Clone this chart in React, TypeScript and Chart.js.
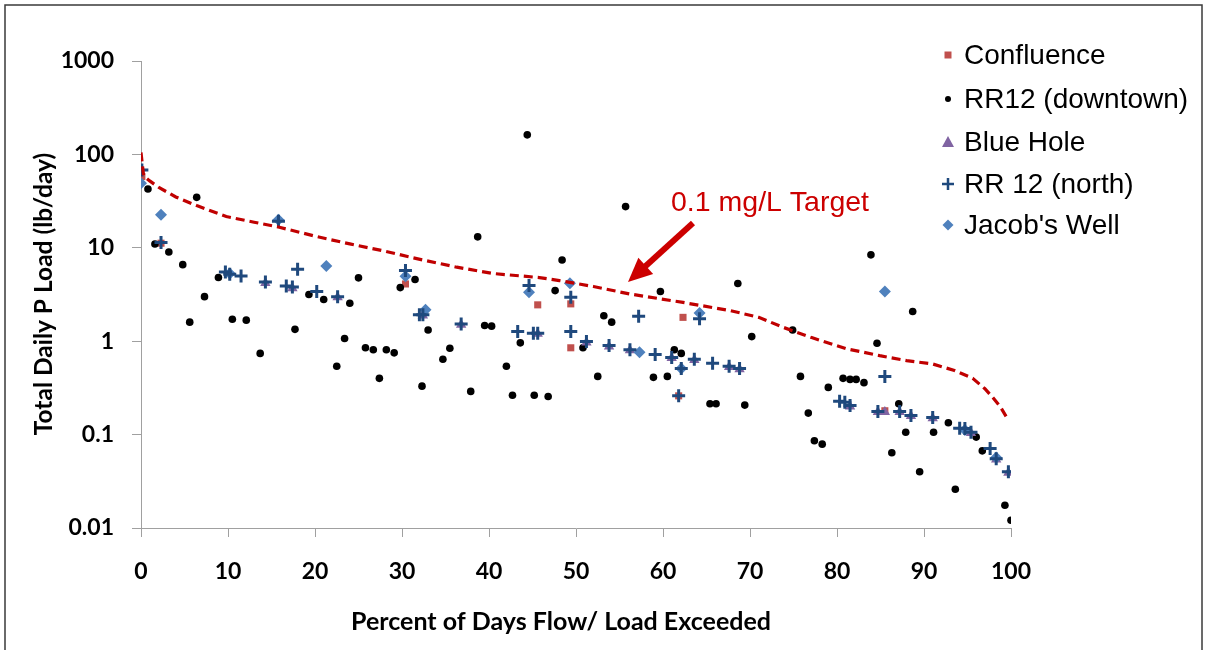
import React, { useEffect, useRef } from "react";
import { Chart, registerables } from "chart.js";

Chart.register(...registerables);

// ---------------- DATA ----------------
const confluenceX = [0.1, 2.3, 30.4, 45.6, 49.4, 49.4, 61.8, 62.3, 85.5];
const confluenceY = [58, 11.2, 4.1, 2.45, 2.51, 0.85, 0.26, 1.8, 0.18];

const downtownX = [
  0.8, 1.6, 3.2, 4.8, 5.6, 6.4, 7.3, 8.9, 10.5, 12.1, 13.7, 17.7, 19.3, 21.0, 22.5, 23.4, 24.0, 25.0,
  25.8, 26.7, 27.4, 28.2, 29.1, 29.8, 31.5, 32.3, 33.0, 34.7, 35.5, 37.9, 38.7, 39.5, 40.3, 42.0, 42.7,
  43.6, 44.4, 45.2, 46.8, 47.6, 48.4, 50.8, 52.5, 53.2, 54.1, 55.7, 58.9, 59.7, 60.5, 61.3, 62.1, 65.4,
  66.1, 68.6, 69.4, 70.2, 74.9, 75.8, 76.7, 77.4, 78.3, 79.0, 80.7, 81.5, 82.2, 83.1, 83.9, 84.6, 86.3,
  87.1, 87.9, 88.7, 89.5, 91.1, 92.8, 93.6, 96.0, 96.7, 99.3, 100,
];
const downtownY = [
  42.6, 11, 9.0, 6.6, 1.6, 34.7, 3.0, 4.8, 1.72, 1.68, 0.74, 1.34, 3.16, 2.8, 0.54, 1.07, 2.55, 4.77,
  0.85, 0.81, 0.4, 0.81, 0.75, 3.75, 4.57, 0.33, 1.32, 0.64, 0.84, 0.29, 13.1, 1.47, 1.45, 0.54, 0.264,
  0.96, 162, 0.264, 0.256, 3.48, 7.4, 0.85, 0.42, 1.87, 1.6, 27.6, 0.41, 3.4, 0.42, 0.81, 0.74, 0.214,
  0.214, 4.14, 0.207, 1.12, 1.32, 0.42, 0.17, 0.086, 0.079, 0.32, 0.4, 0.39, 0.39, 0.36, 8.4, 0.95, 0.064,
  0.214, 0.106, 2.08, 0.04, 0.106, 0.134, 0.026, 0.094, 0.067, 0.0175, 0.0121,
];

const blueHoleX = [
  14.3, 17.4, 22.6, 32.4, 36.8, 45.6, 51.2, 53.8, 56.2, 61.0, 63.6, 67.6, 68.8, 81.5, 84.7, 85.5, 87.2,
  88.5, 91.0, 95.4, 98.3, 99.7,
];
const blueHoleY = [
  4.2, 3.7, 2.95, 1.88, 1.5, 1.2, 0.97, 0.88, 0.8, 0.66, 0.63, 0.53, 0.5, 0.2, 0.175, 0.175, 0.175,
  0.158, 0.15, 0.104, 0.054, 0.039,
];

const northX = [
  0.1, 2.3, 9.7, 10.2, 11.5, 14.3, 15.8, 16.7, 17.4, 18.0, 20.2, 22.6, 30.4, 32.0, 32.4, 36.8, 43.3,
  44.6, 45.1, 45.6, 49.4, 49.4, 51.2, 53.8, 56.2, 57.2, 59.1, 61.0, 61.8, 62.1, 63.6, 64.2, 65.7, 67.6,
  68.8, 80.3, 80.9, 81.5, 84.7, 85.5, 87.2, 88.5, 91.0, 94.1, 94.7, 95.4, 97.6, 98.3, 99.7,
];
const northY = [
  68, 11.4, 5.5, 5.2, 5.0, 4.3, 19.2, 3.9, 3.8, 5.9, 3.4, 3.0, 5.7, 1.92, 1.92, 1.53, 1.27, 3.95, 1.22,
  1.22, 2.95, 1.27, 0.99, 0.9, 0.81, 1.85, 0.72, 0.67, 0.26, 0.51, 0.64, 1.74, 0.58, 0.54, 0.51, 0.228,
  0.222, 0.205, 0.177, 0.42, 0.177, 0.16, 0.152, 0.117, 0.116, 0.106, 0.071, 0.055, 0.04,
];

const jacobX = [0.0, 2.3, 10.2, 15.8, 21.3, 30.4, 32.7, 44.6, 49.3, 57.3, 62.1, 64.2, 85.5, 94.7, 98.3];
const jacobY = [49, 22.6, 5.3, 20, 6.4, 4.96, 2.17, 3.34, 4.17, 0.76, 0.51, 2.0, 3.4, 0.112, 0.057];

const targetX = [
  0, 0.3, 1, 2.1, 4, 6.4, 9.8, 13, 15.9, 20.2, 24, 27.8, 32.4, 36.3, 40.5, 45.8, 48.1, 52, 56.2, 62.3,
  67.7, 71, 73.8, 77, 81.1, 84.9, 88, 91, 93.5, 95.6, 97, 97.9, 98.8, 99.6,
];
const targetY = [
  105, 59, 52, 44, 35, 28.3, 21.6, 18.8, 16.6, 13.2, 11, 9.3, 7.4, 6.2, 5.3, 4.8, 4.46, 3.85, 3.2, 2.6,
  2.13, 1.8, 1.41, 1.1, 0.83, 0.7, 0.62, 0.57, 0.486, 0.4, 0.31, 0.25, 0.197, 0.148,
];

const xTickValues = [0, 10, 20, 30, 40, 50, 60, 70, 80, 90, 100];
const yTickValues = [0.01, 0.1, 1, 10, 100, 1000];
const yTickLabels = ["0.01", "0.1", "1", "10", "100", "1000"];

const seriesNames = ["Confluence", "RR12 (downtown)", "Blue Hole", "RR 12 (north)", "Jacob's Well"];
const annotationText = "0.1 mg/L Target";
const xTitle = "Percent of Days Flow/ Load Exceeded";
const yTitle = "Total Daily P Load (lb/day)";

// ---------------- STYLE ----------------
const C_CONF = "#C0504D";
const C_DOWN = "#000000";
const C_BLUE = "#8064A2";
const C_NORTH = "#1F497D";
const C_JACOB = "#4F81BD";
const C_TARGET = "#C00000";
const C_ANNOT = "#CC0000";

function pts(xs: number[], ys: number[]) {
  return xs.map((x, i) => ({ x, y: ys[i] }));
}

function drawMarker(ctx: CanvasRenderingContext2D, kind: string, x: number, y: number, color: string) {
  ctx.save();
  ctx.fillStyle = color;
  ctx.strokeStyle = color;
  ctx.beginPath();
  if (kind === "square") {
    ctx.rect(x - 3.5, y - 3.5, 7, 7);
    ctx.fill();
  } else if (kind === "circle") {
    ctx.arc(x, y, 3, 0, Math.PI * 2);
    ctx.fill();
  } else if (kind === "triangle") {
    ctx.moveTo(x, y - 6);
    ctx.lineTo(x + 6, y + 5);
    ctx.lineTo(x - 6, y + 5);
    ctx.closePath();
    ctx.fill();
  } else if (kind === "plus") {
    ctx.lineWidth = 2.5;
    ctx.moveTo(x - 6, y);
    ctx.lineTo(x + 6, y);
    ctx.moveTo(x, y - 6);
    ctx.lineTo(x, y + 6);
    ctx.stroke();
  } else if (kind === "diamond") {
    ctx.moveTo(x, y - 5.5);
    ctx.lineTo(x + 5.5, y);
    ctx.lineTo(x, y + 5.5);
    ctx.lineTo(x - 5.5, y);
    ctx.closePath();
    ctx.fill();
  }
  ctx.restore();
}

const decorPlugin = {
  id: "decor",
  beforeDraw(chart: any) {
    const ctx = chart.ctx as CanvasRenderingContext2D;
    ctx.save();
    ctx.fillStyle = "#ffffff";
    ctx.fillRect(0, 0, chart.width, chart.height);
    ctx.restore();
  },
  afterDraw(chart: any) {
    const ctx = chart.ctx as CanvasRenderingContext2D;
    ctx.save();
    // outer frame
    ctx.strokeStyle = "#3a3a3a";
    ctx.lineWidth = 1.5;
    ctx.strokeRect(5, 5, 1197, 700);

    // axis titles
    ctx.fillStyle = "#000";
    ctx.font = "bold 25px Lato";
    ctx.textAlign = "center";
    ctx.textBaseline = "middle";
    ctx.fillText(xTitle, 561, 622);
    ctx.save();
    ctx.translate(44, 294);
    ctx.rotate(-Math.PI / 2);
    ctx.font = "bold 24.5px Lato";
    ctx.fillText(yTitle, 0, 0);
    ctx.restore();

    // legend
    const kinds = ["square", "circle", "triangle", "plus", "diamond"];
    const colors = [C_CONF, C_DOWN, C_BLUE, C_NORTH, C_JACOB];
    const rows = [55, 99, 142, 184, 225];
    ctx.font = "28px 'Liberation Sans', Arial, sans-serif";
    ctx.textAlign = "left";
    ctx.textBaseline = "middle";
    for (let i = 0; i < seriesNames.length; i++) {
      drawMarker(ctx, kinds[i], 948, rows[i], colors[i]);
      ctx.fillStyle = "#000";
      ctx.fillText(seriesNames[i], 964, rows[i] + 1);
    }

    // annotation
    ctx.fillStyle = C_ANNOT;
    ctx.font = "28.5px 'Liberation Sans', Arial, sans-serif";
    ctx.textBaseline = "alphabetic";
    ctx.fillText(annotationText, 671, 211);

    // arrow
    const tx = 628, ty = 282, sx = 693, sy = 223;
    const dx = tx - sx, dy = ty - sy;
    const len = Math.hypot(dx, dy);
    const ux = dx / len, uy = dy / len;
    const hl = 24, hw = 11;
    const bx = tx - ux * hl, by = ty - uy * hl;
    ctx.strokeStyle = C_ANNOT;
    ctx.lineWidth = 6;
    ctx.beginPath();
    ctx.moveTo(sx, sy);
    ctx.lineTo(bx + ux * 2, by + uy * 2);
    ctx.stroke();
    ctx.beginPath();
    ctx.moveTo(tx, ty);
    ctx.lineTo(bx - uy * hw, by + ux * hw);
    ctx.lineTo(bx + uy * hw, by - ux * hw);
    ctx.closePath();
    ctx.fillStyle = C_ANNOT;
    ctx.fill();
    ctx.restore();
  },
};

export default function App() {
  const ref = useRef<HTMLCanvasElement | null>(null);

  useEffect(() => {
    if (!ref.current) return;
    const tickFont = { family: "Lato", weight: "bold" as const, size: 23 };
    const chart = new Chart(ref.current, {
      type: "scatter",
      data: {
        datasets: [
          {
            label: "0.1 mg/L Target",
            data: pts(targetX, targetY),
            showLine: true,
            borderColor: C_TARGET,
            backgroundColor: C_TARGET,
            borderWidth: 3.2,
            borderDash: [9, 5],
            pointRadius: 0,
            tension: 0,
            order: 0,
          },
          {
            label: seriesNames[3],
            data: pts(northX, northY),
            pointStyle: "cross",
            pointRadius: 6.5,
            borderWidth: 3,
            borderColor: C_NORTH,
            backgroundColor: C_NORTH,
            order: 1,
          },
          {
            label: seriesNames[4],
            data: pts(jacobX, jacobY),
            pointStyle: "rectRot",
            pointRadius: 6,
            borderWidth: 0,
            borderColor: C_JACOB,
            backgroundColor: C_JACOB,
            order: 2,
          },
          {
            label: seriesNames[2],
            data: pts(blueHoleX, blueHoleY),
            pointStyle: "triangle",
            pointRadius: 6,
            borderWidth: 0,
            borderColor: C_BLUE,
            backgroundColor: C_BLUE,
            order: 3,
          },
          {
            label: seriesNames[1],
            data: pts(downtownX, downtownY),
            pointStyle: "circle",
            pointRadius: 3.8,
            borderWidth: 0,
            borderColor: C_DOWN,
            backgroundColor: C_DOWN,
            order: 4,
          },
          {
            label: seriesNames[0],
            data: pts(confluenceX, confluenceY),
            pointStyle: "rect",
            pointRadius: 5,
            borderWidth: 0,
            borderColor: C_CONF,
            backgroundColor: C_CONF,
            order: 5,
          },
        ],
      },
      options: {
        animation: false,
        responsive: false,
        devicePixelRatio: 1,
        events: [],
        layout: { padding: { left: 0, top: 61, right: 196, bottom: 0 } },
        plugins: {
          legend: { display: false },
          tooltip: { enabled: false },
        },
        scales: {
          x: {
            type: "linear",
            min: 0,
            max: 100,
            afterBuildTicks: (s: any) => {
              s.ticks = xTickValues.map((v) => ({ value: v }));
            },
            afterFit: (s: any) => {
              s.height = 122;
            },
            ticks: {
              font: tickFont,
              color: "#000",
              padding: 21,
              maxRotation: 0,
              autoSkip: false,
            },
            grid: {
              display: true,
              drawOnChartArea: false,
              drawTicks: true,
              tickLength: 9,
              color: "#a0a0a0",
              lineWidth: 1,
            },
            border: { display: true, color: "#a0a0a0", width: 1 },
          },
          y: {
            type: "logarithmic",
            min: 0.01,
            max: 1000,
            afterBuildTicks: (s: any) => {
              s.ticks = yTickValues.map((v) => ({ value: v }));
            },
            afterFit: (s: any) => {
              s.width = 141;
            },
            ticks: {
              font: tickFont,
              color: "#000",
              padding: 18,
              autoSkip: false,
              callback: (v: any) => {
                const i = yTickValues.indexOf(Number(v));
                return i >= 0 ? yTickLabels[i] : "";
              },
            },
            grid: {
              display: true,
              drawOnChartArea: false,
              drawTicks: true,
              tickLength: 9,
              color: "#a0a0a0",
              lineWidth: 1,
            },
            border: { display: true, color: "#a0a0a0", width: 1 },
          },
        },
      },
      plugins: [decorPlugin],
    });
    return () => chart.destroy();
  }, []);

  return (
    <div style={{ position: "absolute", left: 0, top: 0, width: 1207, height: 650, background: "#fff" }}>
      <canvas ref={ref} width={1207} height={650} style={{ display: "block", width: 1207, height: 650 }} />
    </div>
  );
}
